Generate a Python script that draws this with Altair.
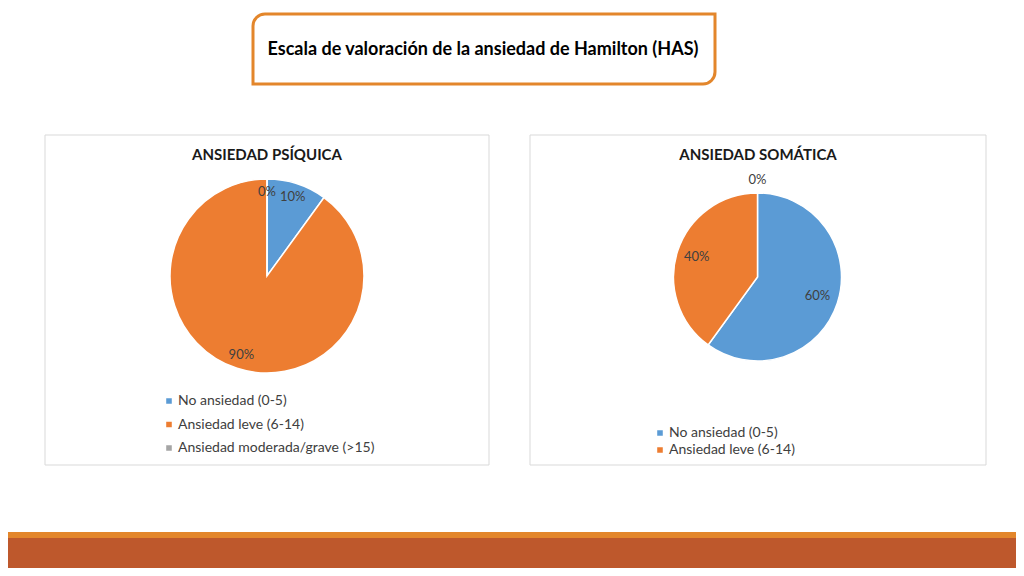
import altair as alt
import pandas as pd

# ---- data ----
categorias = ["No ansiedad (0-5)", "Ansiedad leve (6-14)", "Ansiedad moderada/grave (>15)"]
colores = ["#5B9BD5", "#ED7D31", "#A5A5A5"]
psiquica = [10, 90, 0]
somatica = [60, 40, 0]
radio_etiqueta_psiquica = [83, 83, 84]
radio_etiqueta_somatica = [63, 64, 97]
titulo = "Escala de valoración de la ansiedad de Hamilton (HAS)"
titulos_paneles = ["ANSIEDAD PSÍQUICA", "ANSIEDAD SOMÁTICA"]

FONT = "Lato"
W, H = 1008, 560

df_psi = pd.DataFrame({"cat": categorias, "val": psiquica, "orden": [0, 1, 2],
                       "r": radio_etiqueta_psiquica,
                       "lbl": [f"{v}%" for v in psiquica]})
df_som = pd.DataFrame({"cat": categorias, "val": somatica, "orden": [0, 1, 2],
                       "r": radio_etiqueta_somatica,
                       "lbl": [f"{v}%" for v in somatica]})
df_som_arc = df_som[df_som["val"] > 0]

one = pd.DataFrame({"k": [0]})
theta_scale = alt.Scale(domain=[0, 100])

# ---- decorations ----
bottom_light = alt.Chart(one).mark_rect(color="#E3862B").encode(
    x=alt.value(-8), x2=alt.value(W + 8), y=alt.value(524), y2=alt.value(531))
bottom_dark = alt.Chart(one).mark_rect(color="#BE582C").encode(
    x=alt.value(-8), x2=alt.value(W + 8), y=alt.value(530), y2=alt.value(H + 8))

title_box = alt.Chart(one).mark_rect(
    fill="white", stroke="#E3862B", strokeWidth=3,
    cornerRadiusTopLeft=12, cornerRadiusBottomRight=12,
).encode(x=alt.value(245), x2=alt.value(707), y=alt.value(6), y2=alt.value(76))

title_text = alt.Chart(pd.DataFrame({"t": [titulo]})).mark_text(
    font=FONT, fontSize=18, fontWeight="bold", color="#000000",
    align="center", baseline="middle",
).encode(x=alt.value(475), y=alt.value(42), text="t:N")

panel_l = alt.Chart(one).mark_rect(fill="white", stroke="#D9D9D9", strokeWidth=1).encode(
    x=alt.value(37), x2=alt.value(481), y=alt.value(127), y2=alt.value(457))
panel_r = alt.Chart(one).mark_rect(fill="white", stroke="#D9D9D9", strokeWidth=1).encode(
    x=alt.value(522), x2=alt.value(978), y=alt.value(127), y2=alt.value(457))

ptitle_l = alt.Chart(pd.DataFrame({"t": [titulos_paneles[0]]})).mark_text(
    font=FONT, fontSize=15, fontWeight="bold", color="#1a1a1a", align="center", baseline="middle"
).encode(x=alt.value(259), y=alt.value(147), text="t:N")
ptitle_r = alt.Chart(pd.DataFrame({"t": [titulos_paneles[1]]})).mark_text(
    font=FONT, fontSize=15, fontWeight="bold", color="#1a1a1a", align="center", baseline="middle"
).encode(x=alt.value(750), y=alt.value(147), text="t:N")

# ---- pies ----
def legend(lx, ly, rowpad):
    return alt.Legend(title=None, orient="none", legendX=lx, legendY=ly, direction="vertical",
                      symbolType="square", symbolSize=50, labelFont=FONT, labelFontSize=14,
                      labelColor="#404040", rowPadding=rowpad, padding=0, labelOffset=2,
                      labelLimit=400)


def labels(df, cx, cy):
    return alt.Chart(df).transform_window(
        cum="sum(val)", sort=[alt.SortField("orden")], frame=[None, 0]
    ).transform_calculate(
        mid="datum.cum - datum.val / 2"
    ).mark_text(
        font=FONT, fontSize=13, color="#404040", align="center", baseline="middle"
    ).encode(
        theta=alt.Theta("mid:Q", stack=None, scale=theta_scale),
        radius=alt.Radius("r:Q", scale=None),
        text="lbl:N",
        x=alt.value(cx), y=alt.value(cy),
    )


pie_l = alt.Chart(df_psi).mark_arc(radius=97, stroke="white", strokeWidth=1.5).encode(
    theta=alt.Theta("val:Q", stack=True, scale=theta_scale),
    order=alt.Order("orden:Q"),
    color=alt.Color("cat:N", scale=alt.Scale(domain=categorias, range=colores),
                    legend=legend(154, 386, 9.5)),
    x=alt.value(259), y=alt.value(268),
)
lbl_l = labels(df_psi, 259, 268)

pie_r = alt.Chart(df_som_arc).mark_arc(radius=84, stroke="white", strokeWidth=1.5).encode(
    theta=alt.Theta("val:Q", stack=True, scale=theta_scale),
    order=alt.Order("orden:Q"),
    color=alt.Color("cat:N", scale=alt.Scale(domain=categorias[:2], range=colores[:2]),
                    legend=legend(645, 418, 3)),
    x=alt.value(749.5), y=alt.value(269),
)
lbl_r = labels(df_som, 749.5, 269)

chart = alt.layer(
    bottom_light, bottom_dark, title_box, title_text, panel_l, panel_r,
    ptitle_l, ptitle_r, pie_l, lbl_l, pie_r, lbl_r,
).resolve_scale(color="independent").properties(
    width=W, height=H, padding=0, autosize=alt.AutoSizeParams(type="none"),
    background="white",
).configure_view(stroke=None)

chart.save("out.html", embed_options={"renderer": "svg", "actions": False})
